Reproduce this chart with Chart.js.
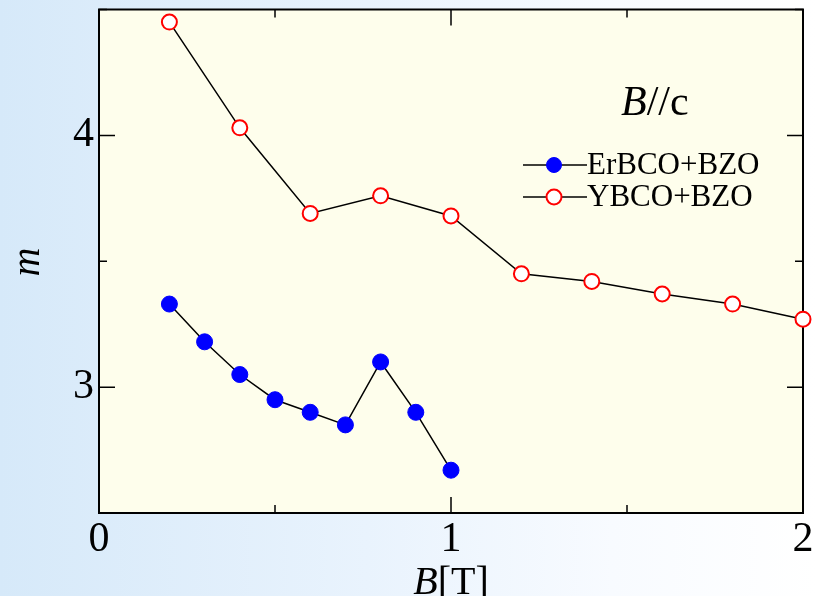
<!DOCTYPE html>
<html>
<head>
<meta charset="utf-8">
<script src="https://cdn.jsdelivr.net/npm/chart.js@4.4.1/dist/chart.umd.min.js"></script>
<style>
  html, body { margin: 0; padding: 0; }
  body {
    width: 817px; height: 596px; overflow: hidden;
    background: linear-gradient(to right, #d6e9f9 0%, #e9f3fd 45%, #f8fbff 75%, #ffffff 100%);
  }
  #wrap { position: relative; width: 817px; height: 596px; }
</style>
</head>
<body>
<div id="wrap"><canvas id="chart" width="817" height="596"></canvas></div>
<script>
// data
const fieldEr = [0.2, 0.3, 0.4, 0.5, 0.6, 0.7, 0.8, 0.9, 1.0]
const mEr     = [3.33, 3.18, 3.05, 2.95, 2.90, 2.85, 3.10, 2.90, 2.67]
const fieldY  = [0.2, 0.4, 0.6, 0.8, 1.0, 1.2, 1.4, 1.6, 1.8, 2.0]
const mY      = [4.45, 4.03, 3.69, 3.76, 3.68, 3.45, 3.42, 3.37, 3.33, 3.27]
const xLabels = [0, 1, 2]
const yLabels = [3, 4]
const seriesNames = ['ErBCO+BZO', 'YBCO+BZO']

const SERIF = '"Liberation Serif", "Times New Roman", serif'

const toPts = (xs, ys) => xs.map((x, i) => ({ x, y: ys[i] }))

// plot background + frame + inward ticks on all four sides
const framePlugin = {
  id: 'frame',
  beforeDraw(chart) {
    const { ctx, chartArea: a } = chart
    ctx.save()
    ctx.fillStyle = '#fefeec'
    ctx.fillRect(a.left, a.top, a.right - a.left, a.bottom - a.top)
    ctx.restore()
  },
  beforeDatasetsDraw(chart) {
    const { ctx, chartArea: a, scales } = chart
    ctx.save()
    ctx.strokeStyle = '#000'
    ctx.lineWidth = 2
    ctx.strokeRect(a.left, a.top, a.right - a.left, a.bottom - a.top)
    ctx.lineWidth = 1.5
    ctx.beginPath()
    scales.x.ticks.forEach(t => {
      const px = scales.x.getPixelForValue(t.value)
      const len = Number.isInteger(t.value) ? 16 : 8
      ctx.moveTo(px, a.bottom); ctx.lineTo(px, a.bottom - len)
      ctx.moveTo(px, a.top); ctx.lineTo(px, a.top + len)
    })
    scales.y.ticks.forEach(t => {
      const py = scales.y.getPixelForValue(t.value)
      const len = Number.isInteger(t.value) ? 16 : 8
      ctx.moveTo(a.left, py); ctx.lineTo(a.left + len, py)
      ctx.moveTo(a.right, py); ctx.lineTo(a.right - len, py)
    })
    ctx.stroke()
    ctx.restore()
  }
}

// axis titles and annotation with mixed italic / upright text
const textPlugin = {
  id: 'texts',
  afterDraw(chart) {
    const { ctx, chartArea: a } = chart
    ctx.save()
    ctx.fillStyle = '#000'
    ctx.textBaseline = 'alphabetic'

    // x title: B[T]
    const cx = (a.left + a.right) / 2
    ctx.font = 'italic 40px ' + SERIF
    const wB = ctx.measureText('B').width
    ctx.font = '40px ' + SERIF
    const wT = ctx.measureText('[T]').width
    let x0 = cx - (wB + wT) / 2
    ctx.textAlign = 'left'
    ctx.font = 'italic 40px ' + SERIF
    ctx.fillText('B', x0, 594)
    ctx.font = '40px ' + SERIF
    ctx.fillText('[T]', x0 + wB, 594)

    // y title: m
    ctx.save()
    ctx.translate(39, 262)
    ctx.rotate(-Math.PI / 2)
    ctx.textAlign = 'center'
    ctx.font = 'italic 40px ' + SERIF
    ctx.fillText('m', 0, 0)
    ctx.restore()

    // B//c
    ctx.textAlign = 'left'
    ctx.font = 'italic 42px ' + SERIF
    ctx.fillText('B', 621, 115)
    const wB2 = ctx.measureText('B').width
    ctx.font = '42px ' + SERIF
    ctx.fillText('//c', 621 + wB2, 115)
    ctx.restore()
  }
}

// legend drawn as line - marker - line, like the original
const legendPlugin = {
  id: 'lineLegend',
  afterDraw(chart) {
    const { ctx } = chart
    ctx.save()
    chart.data.datasets.forEach((ds, i) => {
      const y = 165 + i * 32
      ctx.strokeStyle = '#000'
      ctx.lineWidth = 1.5
      ctx.beginPath()
      ctx.moveTo(523, y); ctx.lineTo(587, y)
      ctx.stroke()
      ctx.beginPath()
      ctx.arc(554, y, 7.5, 0, Math.PI * 2)
      ctx.fillStyle = ds.pointBackgroundColor
      ctx.fill()
      ctx.lineWidth = ds.pointBorderWidth
      ctx.strokeStyle = ds.pointBorderColor
      ctx.stroke()
      ctx.fillStyle = '#000'
      ctx.font = '31px ' + SERIF
      ctx.textAlign = 'left'
      ctx.textBaseline = 'middle'
      ctx.fillText(ds.label, 587, y + 1)
    })
    ctx.restore()
  }
}

new Chart(document.getElementById('chart'), {
  type: 'line',
  data: {
    datasets: [
      {
        label: seriesNames[0],
        data: toPts(fieldEr, mEr),
        borderColor: '#000',
        borderWidth: 1.5,
        pointRadius: 8,
        pointBackgroundColor: '#0000ff',
        pointBorderColor: '#0000ff',
        pointBorderWidth: 1,
        clip: false
      },
      {
        label: seriesNames[1],
        data: toPts(fieldY, mY),
        borderColor: '#000',
        borderWidth: 1.5,
        pointRadius: 7.5,
        pointBackgroundColor: '#ffffff',
        pointBorderColor: '#ff0000',
        pointBorderWidth: 2,
        clip: false
      }
    ]
  },
  options: {
    responsive: false,
    animation: false,
    layout: { padding: { left: 0, top: 9, right: 14, bottom: 0 } },
    plugins: { legend: { display: false }, tooltip: { enabled: false } },
    scales: {
      x: {
        type: 'linear', min: 0, max: 2,
        grid: { display: false, drawTicks: false },
        border: { display: false },
        ticks: {
          stepSize: 0.5, padding: 2, color: '#000',
          font: { family: SERIF, size: 42 },
          callback: v => xLabels.includes(v) ? String(v) : ''
        },
        afterFit: s => { s.height = 83; s.paddingLeft = 0; s.paddingRight = 0 }
      },
      y: {
        min: 2.5, max: 4.5,
        grid: { display: false, drawTicks: false },
        border: { display: false },
        ticks: {
          stepSize: 0.5, padding: 5, color: '#000',
          font: { family: SERIF, size: 42 },
          callback: v => yLabels.includes(v) ? String(v) : ''
        },
        afterFit: s => { s.width = 99; s.paddingTop = 0; s.paddingBottom = 0 }
      }
    }
  },
  plugins: [framePlugin, textPlugin, legendPlugin]
})
</script>
</body>
</html>
